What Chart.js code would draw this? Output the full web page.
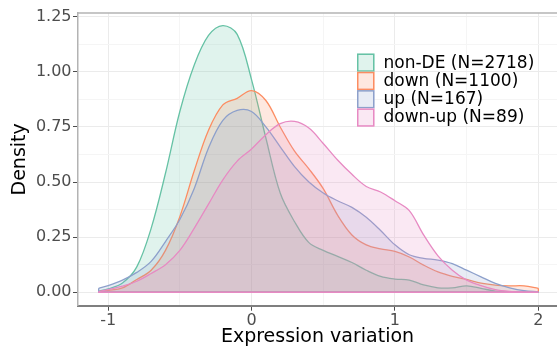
<!DOCTYPE html>
<html>
<head>
<meta charset="utf-8">
<script src="https://cdn.jsdelivr.net/npm/chart.js@4.4.1/dist/chart.umd.min.js"></script>
<style>
  html, body { margin: 0; padding: 0; background: #fff; }
  canvas { display: block; }
</style>
</head>
<body>
<canvas id="densityChart" width="557" height="352"></canvas>
<script>
// x positions where the densities are evaluated
var xGrid = [-1.066, -1.0, -0.9, -0.8, -0.7, -0.6, -0.5, -0.4, -0.3, -0.2, -0.1, 0.0,
             0.1, 0.2, 0.3, 0.4, 0.5, 0.6, 0.7, 0.8, 0.9, 1.0, 1.1, 1.2, 1.3, 1.4,
             1.5, 1.6, 1.7, 1.8, 1.9, 2.0];

var groupLabels = ['non-DE (N=2718)', 'down (N=1100)', 'up (N=167)', 'down-up (N=89)'];

var nonDE  = [0.005, 0.015, 0.042, 0.115, 0.29, 0.54, 0.82, 1.03, 1.165, 1.21, 1.17, 0.965,
              0.70, 0.45, 0.32, 0.225, 0.19, 0.163, 0.135, 0.10, 0.072, 0.06, 0.055, 0.033,
              0.02, 0.02, 0.029, 0.018, 0.005, 0.001, 0, 0];
var down   = [0.003, 0.008, 0.02, 0.058, 0.10, 0.19, 0.343, 0.55, 0.735, 0.85, 0.88, 0.915,
              0.87, 0.75, 0.64, 0.56, 0.47, 0.35, 0.26, 0.215, 0.197, 0.185, 0.16, 0.123,
              0.092, 0.072, 0.058, 0.041, 0.032, 0.029, 0.029, 0.018];
var up     = [0.018, 0.03, 0.055, 0.09, 0.14, 0.23, 0.33, 0.47, 0.655, 0.78, 0.825, 0.82,
              0.75, 0.66, 0.57, 0.50, 0.45, 0.415, 0.385, 0.34, 0.28, 0.215, 0.17, 0.154,
              0.146, 0.13, 0.10, 0.07, 0.04, 0.02, 0.007, 0.002];
var downUp = [0.003, 0.012, 0.028, 0.05, 0.085, 0.125, 0.19, 0.29, 0.40, 0.51, 0.595, 0.65,
              0.715, 0.765, 0.775, 0.745, 0.675, 0.60, 0.535, 0.48, 0.455, 0.415, 0.37, 0.26,
              0.165, 0.10, 0.055, 0.03, 0.012, 0.004, 0.001, 0];

var lineColors = ['#66C2A5', '#FC8D62', '#8DA0CB', '#E78AC3'];
var fillColors = ['rgba(102,194,165,0.2)', 'rgba(252,141,98,0.2)', 'rgba(141,160,203,0.2)', 'rgba(231,138,195,0.2)'];

var xMajorTicks = [-1, 0, 1, 2];
var xMinorTicks = [-0.5, 0.5, 1.5];
var yMajorTicks = [0, 0.25, 0.5, 0.75, 1.0, 1.25];
var yMinorTicks = [0.125, 0.375, 0.625, 0.875, 1.125];

var FONT = 'DejaVu Sans';

function toPoints(ys) {
  return xGrid.map(function (x, i) { return { x: x, y: ys[i] }; });
}

function makeTicks(major, minor) {
  return major.concat(minor).sort(function (a, b) { return a - b; })
    .map(function (v) { return { value: v }; });
}

function isMajor(list, v) {
  return list.some(function (m) { return Math.abs(m - v) < 1e-9; });
}

// closes each area like geom_density: vertical ends and a baseline
var outlinePlugin = {
  id: 'densityOutline',
  afterDatasetDraw: function (chart, args) {
    var meta = chart.getDatasetMeta(args.index);
    var pts = meta.data;
    if (!pts.length) return;
    var ctx = chart.ctx;
    var y0 = chart.scales.y.getPixelForValue(0);
    var first = pts[0], last = pts[pts.length - 1];
    ctx.save();
    ctx.strokeStyle = chart.data.datasets[args.index].borderColor;
    ctx.lineWidth = 1.3;
    ctx.beginPath();
    ctx.moveTo(first.x, first.y);
    ctx.lineTo(first.x, y0);
    ctx.lineTo(last.x, y0);
    ctx.lineTo(last.x, last.y);
    ctx.stroke();
    ctx.restore();
  }
};

var framePlugin = {
  id: 'panelFrame',
  afterDraw: function (chart) {
    var a = chart.chartArea, ctx = chart.ctx;
    ctx.save();
    ctx.strokeStyle = '#b3b3b3';
    ctx.lineWidth = 1.5;
    ctx.beginPath();
    ctx.moveTo(a.left, a.top);
    ctx.lineTo(a.right, a.top);
    ctx.stroke();
    ctx.restore();
  }
};

var legendPlugin = {
  id: 'boxLegend',
  afterDraw: function (chart) {
    var ctx = chart.ctx;
    var x = 357, y = 53.5, w = 17.5, h = 18.3;
    ctx.save();
    ctx.font = '17px "' + FONT + '"';
    ctx.textBaseline = 'middle';
    chart.data.datasets.forEach(function (ds, i) {
      var top = y + i * h;
      ctx.fillStyle = '#ffffff';
      ctx.fillRect(x, top, w, h);
      ctx.fillStyle = ds.backgroundColor;
      ctx.fillRect(x, top, w, h);
      ctx.strokeStyle = ds.borderColor;
      ctx.lineWidth = 1.5;
      ctx.strokeRect(x + 0.75, top + 0.75, w - 1.5, h - 1.5);
      ctx.fillStyle = '#000000';
      ctx.fillText(ds.label, x + 26.5, top + h / 2 + 0.5);
    });
    ctx.restore();
  }
};

var seriesValues = [nonDE, down, up, downUp];

new Chart(document.getElementById('densityChart'), {
  type: 'line',
  data: {
    datasets: seriesValues.map(function (vals, i) {
      return {
        label: groupLabels[i],
        data: toPoints(vals),
        borderColor: lineColors[i],
        backgroundColor: fillColors[i],
        borderWidth: 1.3,
        fill: 'origin',
        pointRadius: 0,
        tension: 0.35,
        order: 4 - i
      };
    })
  },
  options: {
    responsive: false,
    animation: false,
    events: [],
    layout: { padding: { top: 13, right: 0, left: 0, bottom: 0 } },
    plugins: {
      legend: { display: false },
      tooltip: { enabled: false }
    },
    scales: {
      x: {
        type: 'linear',
        min: -1.21,
        max: 2.13,
        afterBuildTicks: function (scale) { scale.ticks = makeTicks(xMajorTicks, xMinorTicks); },
        afterFit: function (scale) { scale.height = 46.3; },
        ticks: {
          autoSkip: false,
          maxRotation: 0,
          padding: 1,
          color: '#4d4d4d',
          font: { family: FONT, size: 16 },
          callback: function (v) { return isMajor(xMajorTicks, v) ? String(v) : ''; }
        },
        grid: {
          tickLength: 5,
          color: function (c) { return isMajor(xMajorTicks, c.tick.value) ? '#ebebeb' : '#f5f5f5'; },
          tickColor: function (c) { return isMajor(xMajorTicks, c.tick.value) ? '#4d4d4d' : 'rgba(0,0,0,0)'; }
        },
        border: { color: '#7f7f7f', width: 2 },
        title: {
          display: true,
          text: 'Expression variation',
          color: '#000000',
          font: { family: FONT, size: 19 },
          padding: { top: 0, bottom: 4 }
        }
      },
      y: {
        min: -0.061,
        max: 1.267,
        afterBuildTicks: function (scale) { scale.ticks = makeTicks(yMajorTicks, yMinorTicks); },
        afterFit: function (scale) { scale.width = 78; },
        ticks: {
          autoSkip: false,
          padding: 1.5,
          color: '#4d4d4d',
          font: { family: FONT, size: 16 },
          callback: function (v) { return isMajor(yMajorTicks, v) ? v.toFixed(2) : ''; }
        },
        grid: {
          tickLength: 5,
          color: function (c) { return isMajor(yMajorTicks, c.tick.value) ? '#ebebeb' : '#f5f5f5'; },
          tickColor: function (c) { return isMajor(yMajorTicks, c.tick.value) ? '#4d4d4d' : 'rgba(0,0,0,0)'; }
        },
        border: { color: '#b3b3b3', width: 1.5 },
        title: {
          display: true,
          text: 'Density',
          color: '#000000',
          font: { family: FONT, size: 19 },
          padding: { top: 9, bottom: 0 }
        }
      }
    }
  },
  plugins: [outlinePlugin, framePlugin, legendPlugin]
});
</script>
</body>
</html>
